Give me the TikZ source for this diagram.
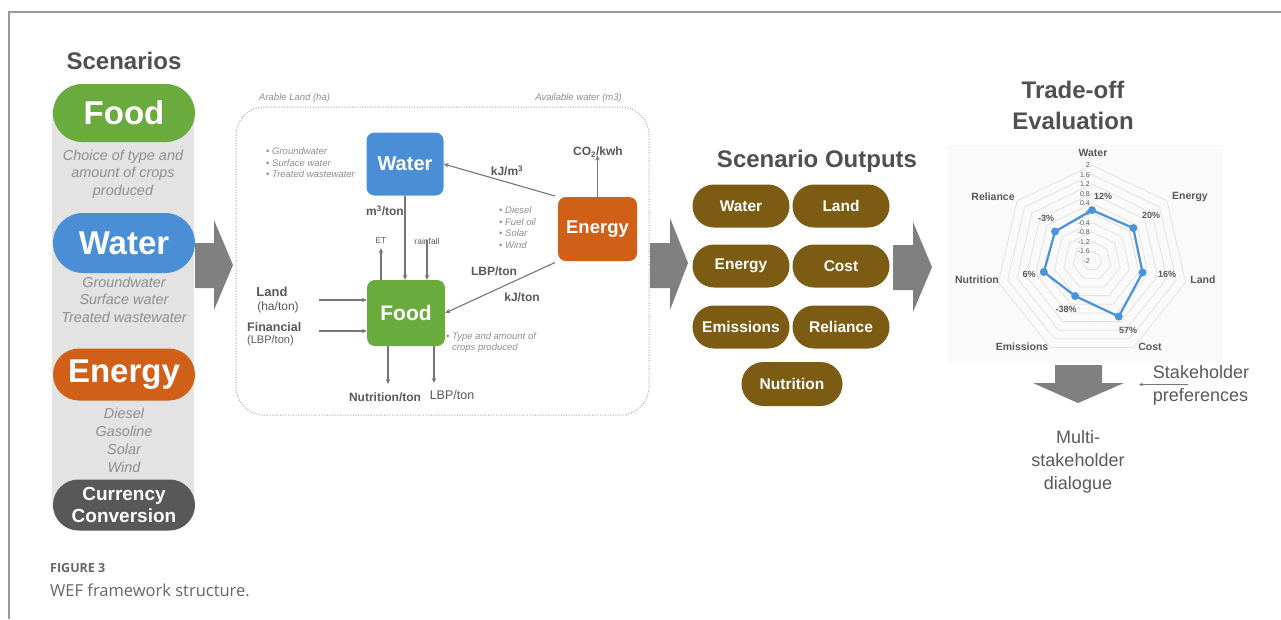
\documentclass[tikz,border=0pt]{standalone}
\usepackage{fontspec}
\setmainfont{Liberation Sans}
\newfontfamily\capfont{Open Sans}
\usetikzlibrary{arrows.meta}

\definecolor{foodgreen}{HTML}{6AAB3E}
\definecolor{waterblue}{HTML}{4A8FD6}
\definecolor{energyorange}{HTML}{D05F18}
\definecolor{currgrey}{HTML}{585858}
\definecolor{outbrown}{HTML}{7C5B12}
\definecolor{arrowgrey}{HTML}{808080}
\definecolor{colbg}{HTML}{E3E3E3}
\definecolor{titlegrey}{HTML}{505050}
\definecolor{labelgrey}{HTML}{595959}
\definecolor{notegrey}{HTML}{8E8E8E}
\definecolor{linegrey}{HTML}{767676}
\definecolor{radarblue}{HTML}{4C92D8}
\definecolor{gridgrey}{HTML}{E2E2E2}
\definecolor{chartbg}{HTML}{FAFAFA}
\definecolor{framegrey}{HTML}{9A9A9A}
\definecolor{dotgrey}{HTML}{A8A8A8}
\definecolor{capgrey}{HTML}{666666}

\newcommand\fsz[2]{\fontsize{#1}{#2}\selectfont}

\begin{document}
\begin{tikzpicture}[x=1pt,y=-1pt,
  titletext/.style={font=\bfseries\fsz{24}{31}, text=titlegrey, align=center, inner sep=0pt},
  scenpill/.style={minimum width=142pt, inner sep=0pt, text=white, font=\bfseries\fsz{33}{36}},
  scennote/.style={font=\itshape\fsz{14.4}{17.5}, text=notegrey, align=center, inner sep=0pt},
  sqbox/.style={rounded corners=8pt, text=white, font=\bfseries\fsz{20}{24}, inner sep=0pt},
  flow/.style={draw=linegrey, line width=1.1pt, -{Stealth[length=5pt,width=4.5pt]}},
  flowlabel/.style={font=\bfseries\fsz{12}{14}, text=labelgrey, inner sep=0pt},
  plainlabel/.style={font=\fsz{12}{14}, text=labelgrey, inner sep=0pt},
  tinylabel/.style={font=\fsz{8.5}{10}, text=labelgrey, inner sep=0pt},
  smallnote/.style={font=\itshape\fsz{9.5}{11.5}, text=notegrey, align=left, inner sep=0pt},
  outpill/.style={fill=outbrown, rounded corners=21.5pt, minimum width=97pt, minimum height=43pt, inner sep=0pt, text=white, font=\bfseries\fsz{15.5}{18}},
  bigarrow/.style={fill=arrowgrey},
  axislabel/.style={font=\bfseries\fsz{10.5}{12}, text=labelgrey, inner sep=0pt},
  pctlabel/.style={font=\bfseries\fsz{9}{10}, text=labelgrey, inner sep=0pt},
  talk/.style={font=\fsz{18}{23}, text=labelgrey, align=center, inner sep=0pt}
]
\useasboundingbox (0,0) rectangle (1281,619);
\fill[white] (0,0) rectangle (1281,619);

% page frame
\draw[framegrey, line width=1.2pt] (9,619) -- (9,12) -- (1281,12);

% ---------------- Scenarios column ----------------
\node[titletext] (scentitle) at (124,61) {Scenarios};
\fill[colbg] (52,110) rectangle (194,510);

\node[scenpill, fill=foodgreen, minimum height=58pt, rounded corners=29pt] (sfood) at (124,113) {Food};
\node[scennote] (sfoodnote) at (123,174) {Choice of type and\\amount of crops\\produced};

\node[scenpill, fill=waterblue, minimum height=60pt, rounded corners=30pt] (swater) at (124,243) {Water};
\node[scennote] (swaternote) at (124,299.5) {Groundwater\\Surface water\\Treated wastewater};

\node[scenpill, fill=energyorange, minimum height=52pt, rounded corners=26pt] (senergy) at (124,374.5) {Energy};
\node[scennote, font=\itshape\fsz{14.4}{18}] (senergynote) at (124,440.5) {Diesel\\Gasoline\\Solar\\Wind};

\node[scenpill, fill=currgrey, minimum height=51pt, rounded corners=25.5pt, font=\bfseries\fsz{19}{22}, align=center] (scurr) at (124,505) {Currency\\Conversion};

% arrow into the model
\fill[bigarrow] (195,243) -- (214,243) -- (214,220) -- (233,265) -- (214,310) -- (214,288) -- (195,288) -- cycle;

% ---------------- Model box ----------------
\draw[dotgrey, line width=1pt, dash pattern=on 1pt off 1.6pt, rounded corners=28pt] (236,107) rectangle (649,415);
\node[smallnote, anchor=west] (arable) at (259,98) {Arable Land (ha)};
\node[smallnote, anchor=east] (availw) at (622,98) {Available water (m3)};

\node[sqbox, fill=waterblue, minimum width=77pt, minimum height=63pt] (water) at (405,164) {Water};
\node[sqbox, fill=energyorange, minimum width=79pt, minimum height=64pt, font=\bfseries\fsz{18.5}{22}] (energy) at (597.5,229) {Energy};
\node[sqbox, fill=foodgreen, minimum width=78pt, minimum height=66pt, font=\bfseries\fsz{21}{24}] (food) at (406,313) {Food};

\node[smallnote, anchor=west] (wsrc) at (266,163) {{\upshape\textbullet} Groundwater\\{\upshape\textbullet} Surface water\\{\upshape\textbullet} Treated wastewater};
\node[smallnote, anchor=west] (esrc) at (499,227.5) {{\upshape\textbullet} Diesel\\{\upshape\textbullet} Fuel oil\\{\upshape\textbullet} Solar\\{\upshape\textbullet} Wind};
\node[smallnote, anchor=north west] (fsrc) at (446,332) {{\upshape\textbullet} Type and amount of\\\hphantom{{\upshape\textbullet} }crops produced};

% energy to water
\draw[flow, shorten <=3pt] (energy.north west) -- (water.east);
\node[flowlabel] (kjm3) at (507,171) {kJ/m\textsuperscript{3}};
% emissions from energy
\node[flowlabel] (co2) at (598,152) {CO\textsubscript{2}/kwh};
\draw[flow] (energy.north) -- ([yshift=2pt]co2.south -| energy.north);
% water to food
\draw[flow] (water.south) -- (water.south |- food.north);
\node[flowlabel, anchor=east] (m3ton) at (404,211) {m\textsuperscript{3}/ton};
% evapotranspiration and rainfall
\node[tinylabel] (et) at (381,241) {ET};
\node[tinylabel] (rain) at (427,241) {rainfall};
\draw[flow] (et.south |- food.north) -- ([yshift=-4pt]et.south);
\draw[flow] ([yshift=4pt]rain.south) -- (rain.south |- food.north);
% energy to food
\draw[flow, shorten <=3pt] (energy.south west) -- (food.east);
\node[flowlabel] (lbpin) at (494,271) {LBP/ton};
\node[flowlabel] (kjton) at (522,297) {kJ/ton};

% land and finance inputs
\node[flowlabel, font=\bfseries\fsz{13}{15}] (land) at (272,292) {Land};
\node[plainlabel] (landu) at (278,307) {(ha/ton)};
\node[flowlabel, font=\bfseries\fsz{12.5}{15}, anchor=west] (fin) at (247,327) {Financial};
\node[plainlabel, font=\fsz{11}{13}, anchor=west] (finu) at (247,341) {(LBP/ton)};
\coordinate (landin) at (319,300);
\coordinate (finin) at (319,331);
\draw[flow] (landin) -- (landin -| food.west);
\draw[flow] (finin) -- (finin -| food.west);

% outputs of food
\coordinate (nutout) at (388,384);
\coordinate (lbpout) at (434,383);
\draw[flow] (nutout |- food.south) -- (nutout);
\draw[flow] (lbpout |- food.south) -- (lbpout);
\node[flowlabel] (nutton) at (385,397) {Nutrition/ton};
\node[plainlabel, font=\fsz{12.5}{14}] (lbpton) at (452,395) {LBP/ton};

% arrow into the outputs
\fill[bigarrow] (650,243) -- (670,243) -- (670,218) -- (688,263) -- (670,310) -- (670,288) -- (650,288) -- cycle;

% ---------------- Scenario outputs ----------------
\node[titletext] (outtitle) at (817,161) {Scenario Outputs};
\node[outpill] (owater) at (741,206) {Water};
\node[outpill] (oland) at (841,206) {Land};
\node[outpill] (oenergy) at (741,266) {Energy};
\node[outpill] (ocost) at (841,266) {Cost};
\node[outpill] (oemis) at (741,327) {Emissions};
\node[outpill] (orel) at (841,327) {Reliance};
\node[outpill, minimum width=101pt, minimum height=44pt, rounded corners=22pt] (onut) at (792,384) {Nutrition};

% arrow into the evaluation
\fill[bigarrow] (893,245) -- (913,245) -- (913,222) -- (932,267) -- (913,312) -- (913,290) -- (893,290) -- cycle;

% ---------------- Trade-off evaluation ----------------
\node[titletext] (evaltitle) at (1073,105) {Trade-off\\Evaluation};
\fill[chartbg] (948,145) rectangle (1223,363);

\begin{scope}[shift={(1092,261)}, y=1pt]
  \foreach \k in {1,...,10}{
    \draw[gridgrey, line width=0.8pt] (90:{\k*9.6})
      \foreach \i in {1,...,6}{ -- ({90-\i*360/7}:{\k*9.6}) } -- cycle;
  }
  \foreach \t [count=\j from 0] in {2,1.6,1.2,0.8,0.4,0,-0.4,-0.8,-1.2,-1.6,-2}{
    \node[anchor=east, font=\fsz{7}{8}, text=labelgrey, inner sep=0pt] (s\j) at (-2,{96-\j*9.6}) {\t};
  }
  \foreach \v [count=\i from 0] in {0.12,0.20,0.16,0.57,-0.38,0.06,-0.03}{
    \coordinate (p\i) at ({90-\i*360/7}:{(\v+2)*24});
  }
  \draw[radarblue, line width=2.2pt, line join=round]
    (p0) -- (p1) -- (p2) -- (p3) -- (p4) -- (p5) -- (p6) -- cycle;
  \foreach \i in {0,...,6}{
    \node[circle, fill=radarblue, inner sep=0pt, minimum size=8pt] (m\i) at (p\i) {};
  }
\end{scope}

\node[axislabel] (awater) at (1093,153) {Water};
\node[axislabel] (aenergy) at (1190,197) {Energy};
\node[axislabel] (aland) at (1203,280) {Land};
\node[axislabel] (acost) at (1150,347) {Cost};
\node[axislabel] (aemis) at (1022,347) {Emissions};
\node[axislabel] (anut) at (977,280) {Nutrition};
\node[axislabel] (arel) at (993,197) {Reliance};

\node[pctlabel] (v0) at (1103,196) {12\%};
\node[pctlabel] (v1) at (1151,215) {20\%};
\node[pctlabel] (v2) at (1167,274) {16\%};
\node[pctlabel] (v3) at (1128,330) {57\%};
\node[pctlabel] (v4) at (1066,309) {-38\%};
\node[pctlabel] (v5) at (1029,274) {6\%};
\node[pctlabel] (v6) at (1046,218) {-3\%};

% towards the dialogue
\fill[bigarrow] (1055,365) -- (1102,365) -- (1102,383) -- (1124,383) -- (1078,403) -- (1033,383) -- (1055,383) -- cycle;
\node[talk, align=left] (prefs) at (1201,385) {Stakeholder\\preferences};
\coordinate (prefstart) at (1188,384.5);
\coordinate (prefend) at (1139,384.5);
\draw[linegrey, line width=0.9pt, -{Stealth[length=4pt,width=3.5pt]}] (prefstart) -- (prefend);
\node[talk] (dialogue) at (1078,462) {Multi-\\stakeholder\\dialogue};

% ---------------- Caption ----------------
\node[anchor=west, inner sep=0pt, text=capgrey, font=\capfont\bfseries\fsz{12.5}{14}] (figno) at (50,568) {FIGURE 3};
\node[anchor=west, inner sep=0pt, text=capgrey, font=\capfont\fsz{16.5}{19}] (figcap) at (50,590) {WEF framework structure.};
\end{tikzpicture}
\end{document}
